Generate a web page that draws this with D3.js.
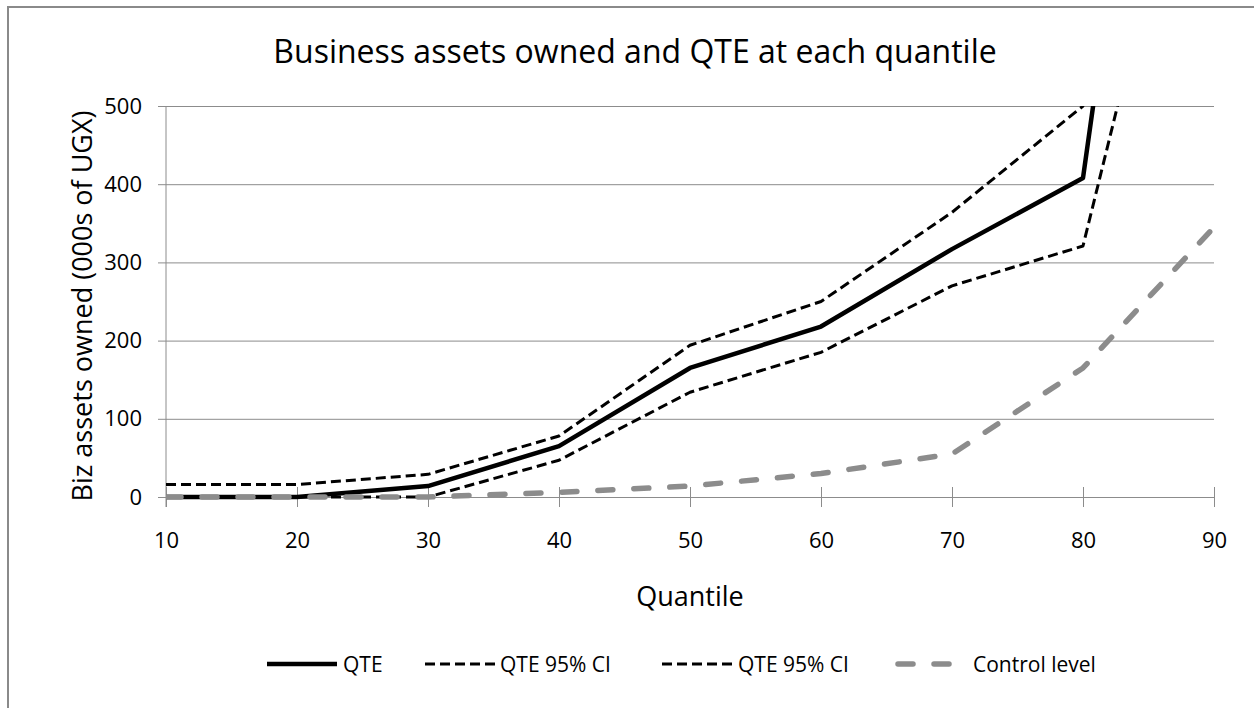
<!DOCTYPE html>
<html>
<head>
<meta charset="utf-8">
<script src="https://cdn.jsdelivr.net/npm/d3@7"></script>
<style>
  body { margin: 0; background: #fff; }
  text { font-family: "Open Sans", sans-serif; fill: #000; }
</style>
</head>
<body>
<svg id="chart" width="1254" height="708"></svg>
<script>
// values
var quantiles = [10, 20, 30, 40, 50, 60, 70, 80, 90];
var qte       = [0, 0, 14, 65, 165, 218, 317, 408, 1600];
var ciUpper   = [16, 16, 29, 78, 194, 250, 364, 500, 2600];
var ciLower   = [0, 0, 0, 47, 134, 185, 270, 321, 1000];
var control   = [0, 0, 0, 6, 14, 30, 55, 165, 345];
var yTicks    = [0, 100, 200, 300, 400, 500];
var legendLabels = ["QTE", "QTE 95% CI", "QTE 95% CI", "Control level"];

drawChart();

function drawChart() {
  var svg = d3.select("#chart");
  var pLeft = 166, pRight = 1214, pTop = 106, pBottom = 497;

  var x = d3.scaleLinear().domain([10, 90]).range([pLeft, pRight]);
  var y = d3.scaleLinear().domain([0, 500]).range([pBottom, pTop]);

  // outer frame
  svg.append("rect")
    .attr("x", 8).attr("y", 7).attr("width", 1260).attr("height", 720)
    .attr("fill", "#fff").attr("stroke", "#8a8a8a").attr("stroke-width", 2);

  // title
  svg.append("text")
    .attr("x", 635).attr("y", 63)
    .attr("text-anchor", "middle")
    .style("font-size", "32px")
    .text("Business assets owned and QTE at each quantile");

  // horizontal gridlines + y axis
  var yAxis = svg.append("g")
    .attr("transform", "translate(" + pLeft + ",0)")
    .call(d3.axisLeft(y).tickValues(yTicks).tickSize(8).tickPadding(16));
  yAxis.select(".domain").remove();
  yAxis.selectAll(".tick line")
    .attr("x1", -8).attr("x2", pRight - pLeft)
    .attr("stroke", "#8c8c8c");
  yAxis.selectAll(".tick text")
    .style("font-size", "22px").attr("fill", "#000")
    .attr("font-family", "Open Sans");

  // y axis line
  svg.append("line")
    .attr("x1", pLeft).attr("x2", pLeft)
    .attr("y1", pTop).attr("y2", pBottom + 10)
    .attr("stroke", "#8c8c8c");

  // x axis (cross ticks)
  var xAxis = svg.append("g")
    .attr("transform", "translate(0," + pBottom + ")")
    .call(d3.axisBottom(x).tickValues(quantiles).tickSize(10).tickPadding(25));
  xAxis.select(".domain").remove();
  xAxis.selectAll(".tick line")
    .attr("y1", -10).attr("y2", 10)
    .attr("stroke", "#8c8c8c");
  xAxis.selectAll(".tick text")
    .style("font-size", "22px").attr("fill", "#000")
    .attr("font-family", "Open Sans");

  // axis titles
  svg.append("text")
    .attr("transform", "translate(92,306) rotate(-90)")
    .attr("text-anchor", "middle")
    .style("font-size", "27px")
    .text("Biz assets owned (000s of UGX)");

  svg.append("text")
    .attr("x", 690).attr("y", 606)
    .attr("text-anchor", "middle")
    .style("font-size", "27px")
    .text("Quantile");

  // series
  svg.append("clipPath").attr("id", "plot")
    .append("rect")
    .attr("x", pLeft).attr("y", pTop)
    .attr("width", pRight - pLeft).attr("height", pBottom - pTop + 10);

  var series = [
    { values: qte, stroke: "#000", width: 4.5, dash: null, cap: "butt" },
    { values: ciUpper, stroke: "#000", width: 3, dash: "10,5", cap: "butt" },
    { values: ciLower, stroke: "#000", width: 3, dash: "10,5", cap: "butt" },
    { values: control, stroke: "#8c8c8c", width: 5.5, dash: "15,21", cap: "round" }
  ];

  var line = d3.line()
    .x(function(d, i) { return x(quantiles[i]); })
    .y(function(d) { return y(d); });

  svg.append("g")
    .attr("clip-path", "url(#plot)")
    .selectAll("path")
    .data(series)
    .enter().append("path")
      .attr("d", function(d) { return line(d.values); })
      .attr("fill", "none")
      .attr("stroke", function(d) { return d.stroke; })
      .attr("stroke-width", function(d) { return d.width; })
      .attr("stroke-dasharray", function(d) { return d.dash; })
      .attr("stroke-linecap", function(d) { return d.cap; })
      .attr("stroke-linejoin", "round");

  // legend
  var legendX = [267, 425, 662, 898];
  var legendLen = [70, 70, 70, 52];
  var legendTextX = [343, 500, 738, 973];
  var ly = 664;
  var lg = svg.append("g").selectAll("g")
    .data(series)
    .enter().append("g");
  lg.append("line")
    .attr("x1", function(d, i) { return legendX[i]; })
    .attr("x2", function(d, i) { return legendX[i] + legendLen[i]; })
    .attr("y1", ly).attr("y2", ly)
    .attr("stroke", function(d) { return d.stroke; })
    .attr("stroke-width", function(d) { return d.width; })
    .attr("stroke-dasharray", function(d) { return d.dash; })
    .attr("stroke-linecap", function(d) { return d.cap; });
  lg.append("text")
    .attr("x", function(d, i) { return legendTextX[i]; })
    .attr("y", 672)
    .style("font-size", "21px")
    .text(function(d, i) { return legendLabels[i]; });
}
</script>
</body>
</html>
